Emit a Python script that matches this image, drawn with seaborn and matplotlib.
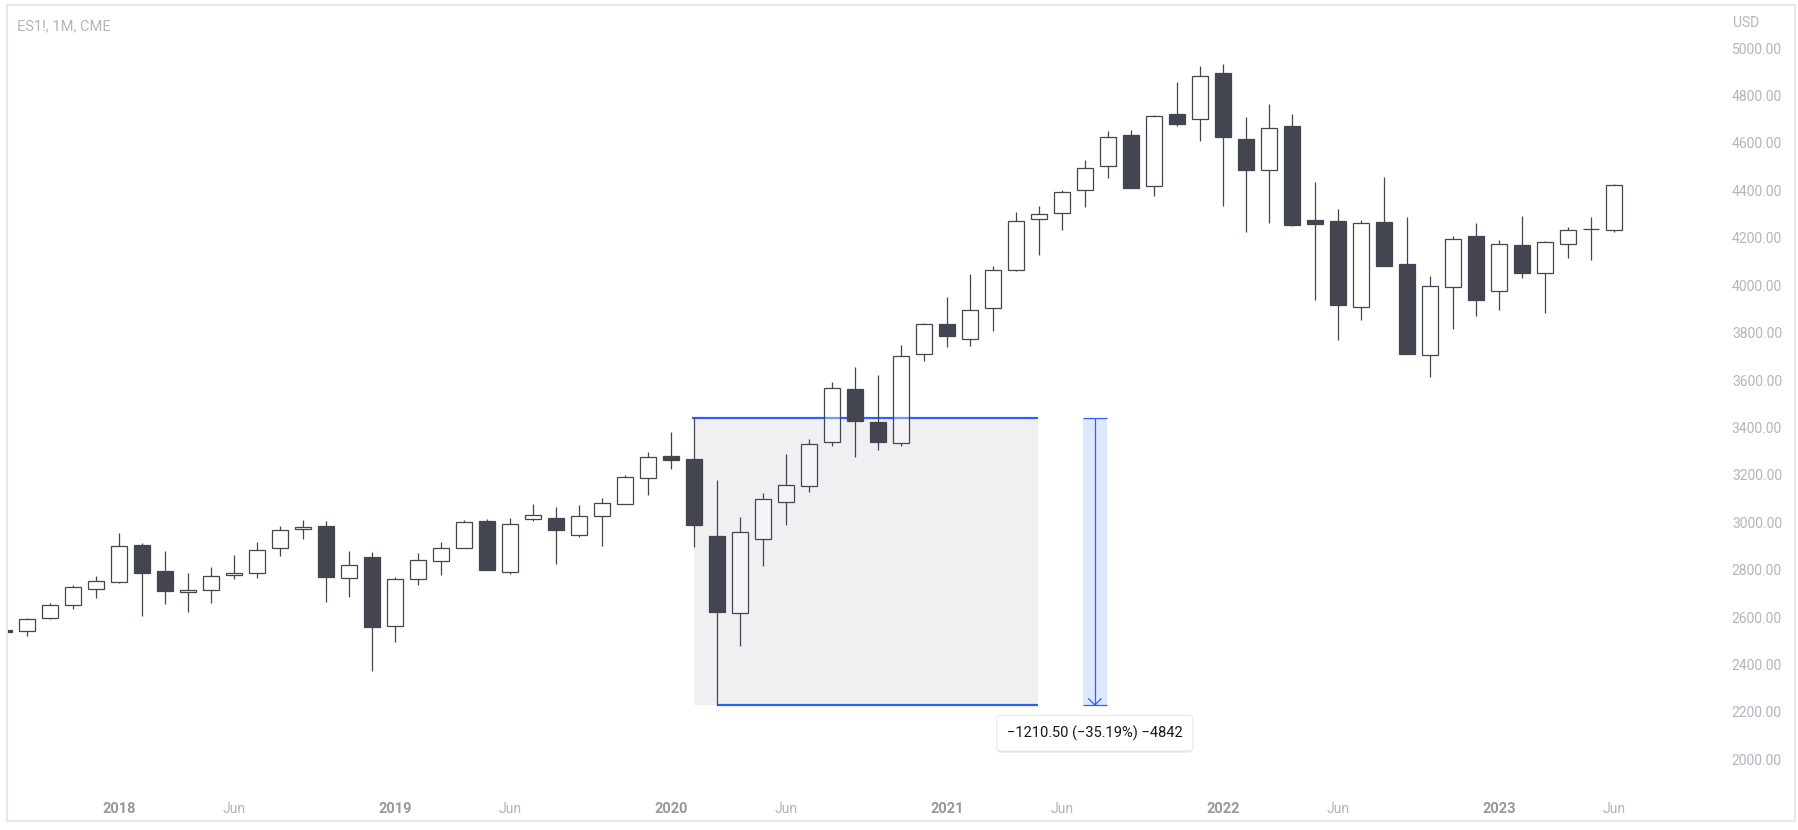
import numpy as np
import pandas as pd
import matplotlib
matplotlib.use("Agg")
import matplotlib.pyplot as plt
import matplotlib.patheffects as pe
import seaborn as sns
from matplotlib.patches import Rectangle

# ---------------- data (monthly OHLC, ES1! continuous, CME) ----------------
months = pd.period_range("2017-08", "2023-06", freq="M").astype(str).tolist()
opens = [2546, 2543, 2595, 2650, 2717,
         2747, 2903, 2795, 2705, 2713, 2776, 2785, 2890, 2970, 2984, 2764, 2854,
         2561, 2762, 2838, 2893, 3006, 2792, 3015, 3018, 2948, 3028, 3079, 3188,
         3280, 3267, 2942, 2616, 2928, 3084, 3152, 3337, 3562, 3423, 3336, 3708,
         3836, 3775, 3902, 4063, 4278, 4303, 4400, 4501, 4632, 4417, 4722, 4702,
         4895, 4617, 4487, 4672, 4274, 4271, 3910, 4267, 4089, 3704, 3994, 4208,
         3974, 4168, 4050, 4172, 4235, 4231]
highs = [2550, 2596, 2660, 2736, 2774,
         2955, 2911, 2879, 2786, 2812, 2862, 2917, 2984, 3010, 3006, 2879, 2875,
         2768, 2871, 2917, 3010, 3014, 3018, 3077, 3065, 3073, 3103, 3198, 3297,
         3381, 3440, 3178, 3022, 3124, 3288, 3351, 3592, 3655, 3621, 3748, 3841,
         3950, 4047, 4081, 4309, 4334, 4402, 4528, 4650, 4655, 4717, 4857, 4925,
         4933, 4709, 4764, 4722, 4435, 4321, 4274, 4456, 4288, 4039, 4208, 4262,
         4191, 4292, 4186, 4246, 4288, 4427]
lows = [2530, 2522, 2593, 2636, 2682,
        2745, 2606, 2657, 2623, 2661, 2762, 2767, 2859, 2931, 2665, 2686, 2374,
        2497, 2737, 2779, 2890, 2797, 2783, 3007, 2826, 2939, 2902, 3077, 3115,
        3225, 2897, 2229.5, 2480, 2817, 2990, 3129, 3323, 3277, 3305, 3323, 3682,
        3741, 3745, 3808, 4061, 4129, 4233, 4331, 4454, 4408, 4378, 4673, 4610,
        4336, 4224, 4262, 4250, 3939, 3770, 3855, 4079, 3709, 3614, 3817, 3872,
        3897, 4032, 3884, 4116, 4108, 4226]
closes = [2538, 2591, 2650, 2726, 2751,
          2899, 2788, 2712, 2713, 2772, 2785, 2882, 2966, 2979, 2771, 2819, 2560,
          2760, 2840, 2890, 3000, 2799, 2992, 3029, 2968, 3027, 3080, 3190, 3274,
          3264, 2990, 2623, 2958, 3097, 3156, 3329, 3565, 3429, 3340, 3700, 3835,
          3787, 3894, 4063, 4269, 4299, 4392, 4493, 4624, 4411, 4712, 4681, 4881,
          4625, 4486, 4662, 4254, 4260, 3917, 4262, 4082, 3711, 3995, 4193, 3939,
          4172, 4053, 4181, 4231, 4236, 4421]

range_top = 3440.0
range_bottom = 2229.5
range_label = "\u22121210.50 (\u221235.19%) \u22124842"
symbol_label = "ES1!, 1M, CME"
currency_label = "USD"
price_ticks = list(range(2000, 5001, 200))
year_ticks = [2018, 2019, 2020, 2021, 2022, 2023]

# ---------------- style ----------------
sns.set_theme(style="white")
plt.rcParams['font.family'] = ['Roboto', 'DejaVu Sans']

DARK = "#434651"
BLUE = "#2962ff"
AXIS_TXT = "#b2b5be"
YEAR_TXT = "#9598a1"

W, H = 1799, 830
fig = plt.figure(figsize=(W / 100, H / 100), dpi=100)
fig.patch.set_facecolor("white")


def px_rect(x0, y0, x1, y1):
    return [x0 / W, 1 - y1 / H, (x1 - x0) / W, (y1 - y0) / H]


ax = fig.add_axes(px_rect(7, 10, 1700, 785))
ax.set_facecolor("white")

df = pd.DataFrame({"month": months, "open": opens, "high": highs,
                   "low": lows, "close": closes})
per = pd.PeriodIndex(df["month"], freq="M")
df["x"] = (per.year - 2018) * 12 + (per.month - 1)

x = df["x"].to_numpy(dtype=float)
o = df["open"].to_numpy(dtype=float)
c = df["close"].to_numpy(dtype=float)
hi = df["high"].to_numpy(dtype=float)
lo = df["low"].to_numpy(dtype=float)
up = c >= o
b_lo = np.minimum(o, c)
b_hi = np.maximum(o, c)
b_h = np.maximum(b_hi - b_lo, 3.0)

# ---------- price range tool (behind candles) ----------
idx_top = int(np.argmax(hi == range_top))
idx_bot = int(np.argmax(lo == range_bottom))
x_start = x[idx_top]
x_end = x_start + 14.95
ax.add_patch(Rectangle((x_start, range_bottom), x_end - x_start, range_top - range_bottom,
                       facecolor="#f0f0f3", edgecolor="none", zorder=1))
ax.hlines(range_top, x_start - 0.07, x_end + 0.02, color=BLUE, lw=1.6, zorder=2)
ax.hlines(range_bottom, x[idx_bot], x_end + 0.02, color=BLUE, lw=1.6, zorder=2)

# vertical measure band
xm = 42.43
half = 0.53
ax.add_patch(Rectangle((xm - half, range_bottom), 2 * half, range_top - range_bottom,
                       facecolor="#dfe7fe", edgecolor="none", zorder=1))
ax.vlines(xm, range_bottom, range_top, color=BLUE, lw=0.9, zorder=2)
ax.hlines([range_top, range_bottom], xm - half, xm + half, color=BLUE, lw=0.9, zorder=2)
ax.plot([xm - 0.29, xm, xm + 0.29], [range_bottom + 28, range_bottom, range_bottom + 28],
        color=BLUE, lw=0.9, zorder=2, solid_capstyle="butt")

# ---------- candles ----------
ax.vlines(x, b_hi, hi, color=DARK, lw=0.9, zorder=3)
ax.vlines(x, lo, b_lo, color=DARK, lw=0.9, zorder=3)
ax.bar(x[up], b_h[up], bottom=b_lo[up], width=0.66, facecolor=(1, 1, 1, 0.35),
       edgecolor=DARK, linewidth=0.9, zorder=4)
ax.bar(x[~up], b_h[~up], bottom=b_lo[~up], width=0.66, facecolor=DARK,
       edgecolor=DARK, linewidth=0.9, zorder=4)

# label of the range
t = ax.text(xm, 2111, range_label, ha="center", va="center", fontsize=10.5,
            color="#131722", zorder=7,
            bbox=dict(boxstyle="round,pad=0.7,rounding_size=0.3", fc="white",
                      ec="#e6e8ec", lw=0.8))
t.get_bbox_patch().set_path_effects([
    pe.SimplePatchShadow(offset=(0, -1.2), shadow_rgbFace="#000000", alpha=0.10),
    pe.Normal()])

# ---------- axes ----------
ax.set_xlim((7 - 119) / 23, (1700 - 119) / 23)
ax.set_ylim(5000 - (785 - 48.1) / 0.2371, 5000 + (48.1 - 10) / 0.2371)
for s in ax.spines.values():
    s.set_visible(False)

ax.yaxis.tick_right()
ax.set_yticks(price_ticks)
ax.set_yticklabels([f"{v:.2f}" for v in price_ticks])
ax.tick_params(axis="y", length=0, pad=59, labelsize=10, labelcolor=AXIS_TXT)
plt.setp(ax.get_yticklabels(), ha="right")

xt, xl = [], []
for yr in year_ticks:
    xt += [(yr - 2018) * 12, (yr - 2018) * 12 + 5]
    xl += [str(yr), "Jun"]
ax.set_xticks(xt)
ax.set_xticklabels(xl)
ax.tick_params(axis="x", length=0, pad=12, labelsize=10, labelcolor=AXIS_TXT)
for lab in ax.get_xticklabels():
    if lab.get_text() != "Jun":
        lab.set_fontweight("bold")
        lab.set_color(YEAR_TXT)
        lab.set_fontsize(10.5)
ax.grid(False)

# ---------- frame and header texts ----------
fig.patches.append(Rectangle((7 / W, 1 - 821 / H), (1795 - 7) / W, (821 - 5) / H,
                             transform=fig.transFigure, fill=False,
                             edgecolor="#e6e8ee", lw=1.5, zorder=0))
fig.text(17 / W, 1 - 26 / H, symbol_label, fontsize=10.5, color=AXIS_TXT,
         ha="left", va="center")
fig.text(1733 / W, 1 - 23 / H, currency_label, fontsize=10, color=AXIS_TXT,
         ha="left", va="center")

fig.savefig("out.png", dpi=100, facecolor="white")
